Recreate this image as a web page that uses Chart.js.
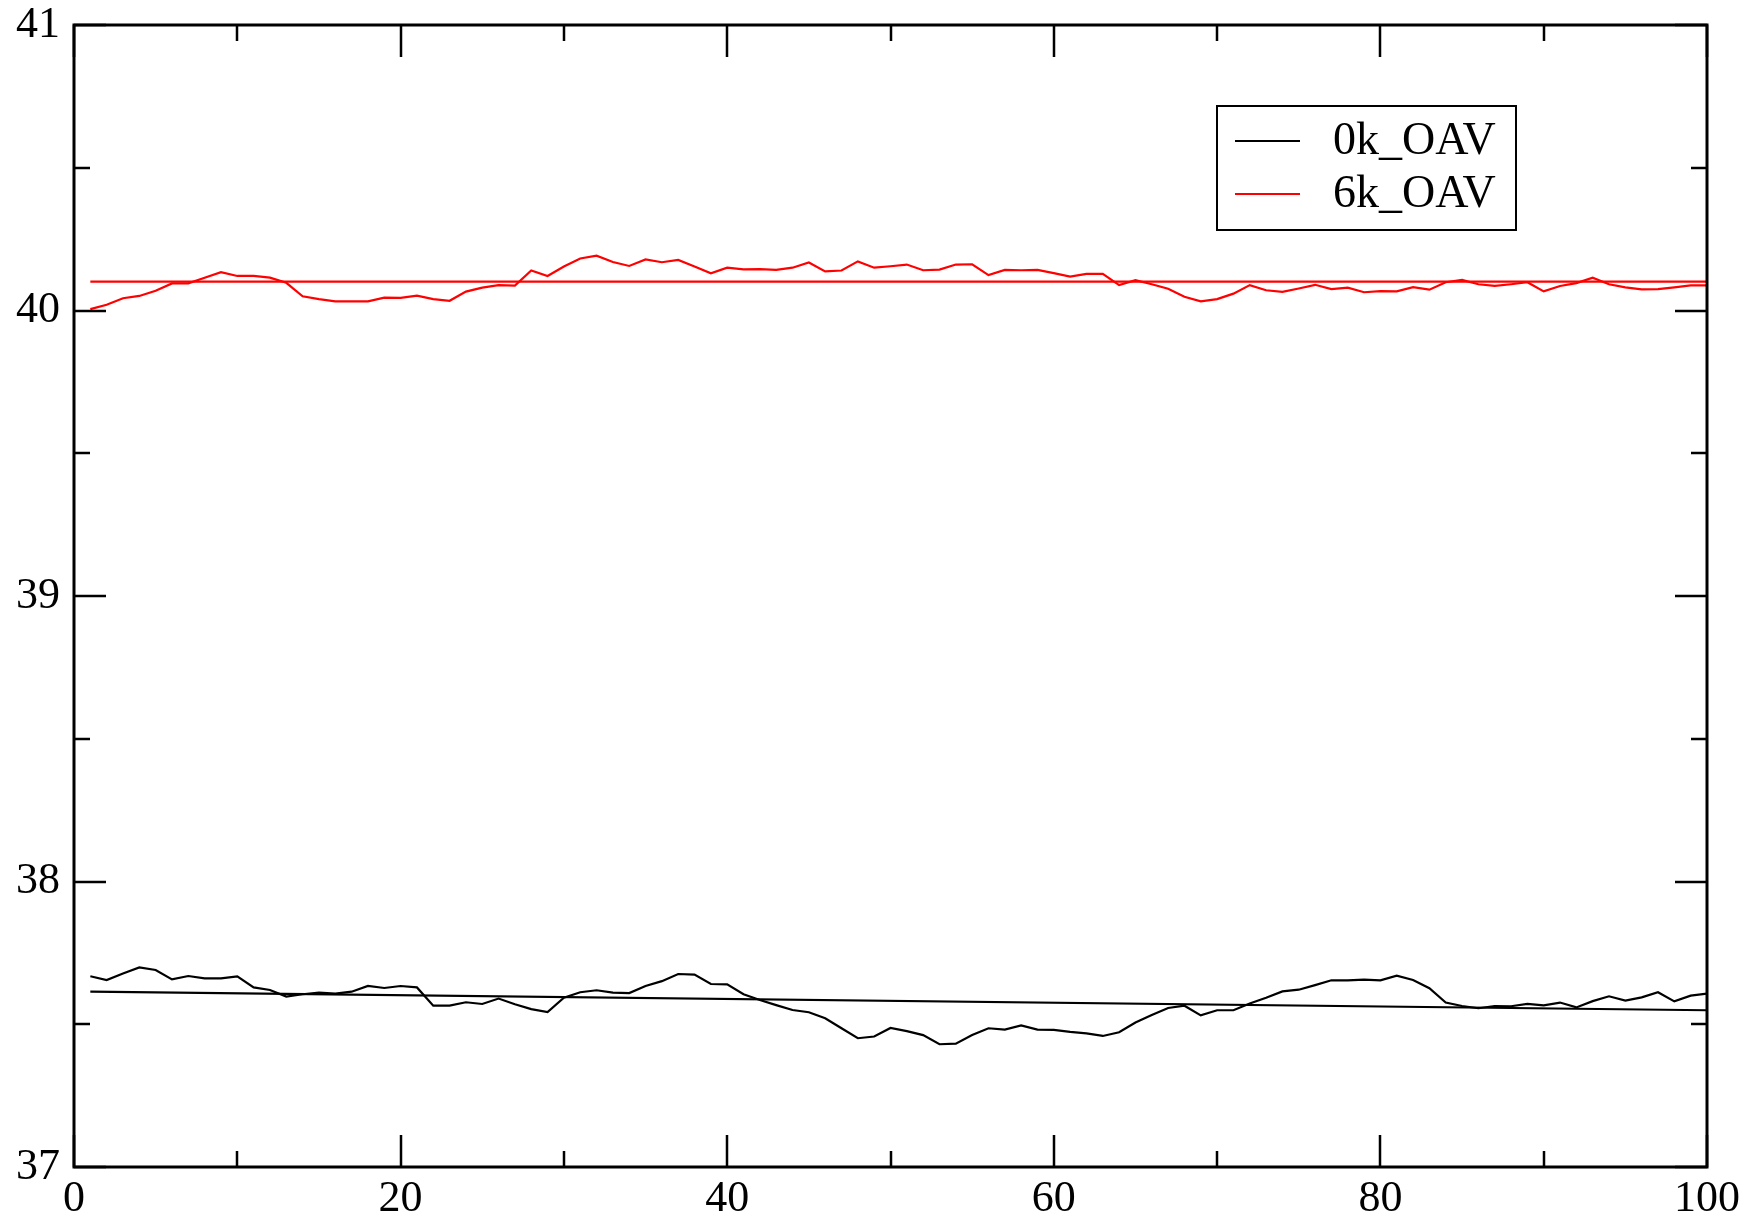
<!DOCTYPE html>
<html><head><meta charset="utf-8">
<script src="https://cdn.jsdelivr.net/npm/chart.js@4.4.1/dist/chart.umd.min.js"></script>
<style>html,body{margin:0;padding:0;background:#fff;}#wrap{width:1760px;height:1223px;}</style>
</head><body><div id="wrap"><canvas id="c" width="1760" height="1223"></canvas></div>
<script>
const steps = [1,2,3,4,5,6,7,8,9,10,11,12,13,14,15,16,17,18,19,20,21,22,23,24,25,26,27,28,29,30,31,32,33,34,35,36,37,38,39,40,41,42,43,44,45,46,47,48,49,50,51,52,53,54,55,56,57,58,59,60,61,62,63,64,65,66,67,68,69,70,71,72,73,74,75,76,77,78,79,80,81,82,83,84,85,86,87,88,89,90,91,92,93,94,95,96,97,98,99,100];
const oav0k = [37.668,37.655,37.678,37.699,37.690,37.657,37.669,37.661,37.661,37.668,
37.629,37.620,37.597,37.605,37.611,37.607,37.614,37.634,37.627,37.634,
37.629,37.565,37.565,37.577,37.571,37.590,37.570,37.553,37.543,37.593,
37.612,37.619,37.611,37.609,37.634,37.651,37.676,37.674,37.641,37.640,
37.605,37.585,37.567,37.550,37.542,37.521,37.486,37.451,37.457,37.487,
37.476,37.462,37.430,37.432,37.462,37.486,37.481,37.496,37.481,37.480,
37.473,37.468,37.459,37.472,37.506,37.532,37.557,37.565,37.531,37.549,
37.549,37.573,37.593,37.615,37.621,37.637,37.654,37.654,37.656,37.654,
37.670,37.655,37.626,37.576,37.564,37.556,37.564,37.563,37.571,37.566,
37.576,37.559,37.581,37.598,37.583,37.594,37.612,37.580,37.600,37.607];
const oav6k = [40.005,40.020,40.043,40.051,40.069,40.095,40.095,40.115,40.134,40.121,
40.121,40.115,40.097,40.050,40.040,40.032,40.032,40.032,40.045,40.044,
40.052,40.040,40.034,40.066,40.080,40.089,40.087,40.140,40.121,40.154,
40.182,40.192,40.170,40.156,40.179,40.169,40.177,40.154,40.130,40.150,
40.144,40.145,40.142,40.150,40.168,40.137,40.140,40.172,40.150,40.155,
40.161,40.141,40.143,40.161,40.162,40.124,40.142,40.141,40.142,40.131,
40.119,40.128,40.128,40.089,40.106,40.092,40.076,40.048,40.032,40.040,
40.059,40.089,40.071,40.065,40.077,40.090,40.075,40.080,40.064,40.068,
40.067,40.082,40.073,40.099,40.107,40.092,40.086,40.092,40.099,40.067,
40.086,40.096,40.115,40.092,40.081,40.074,40.075,40.081,40.088,40.088];
const fitX = [1, 100];
const fit0k = [37.614, 37.549];
const fit6k = [40.101, 40.101];
const seriesNames = ['0k_OAV', '6k_OAV'];
const xTicks = [0,20,40,60,80,100];
const xMinor = [10,30,50,70,90];
const yTicks = [37,38,39,40,41];
const yMinor = [37.5,38.5,39.5,40.5];

const FAMILY = '"Liberation Serif", "Times New Roman", serif';
const FONT = {family: FAMILY, size: 44};
const LEGEND_SIZE = 46;
const pts = (xs, ys) => xs.map((x, i) => ({x: x, y: ys[i]}));

const framePlugin = {
  id: 'frame',
  afterDraw(chart) {
    const ctx = chart.ctx, a = chart.chartArea;
    const xs = chart.scales.x, ys = chart.scales.y;
    ctx.save();
    ctx.strokeStyle = '#000';
    ctx.lineCap = 'butt';
    ctx.lineWidth = 2.5;
    const MAJ = 32, MIN = 16;
    ctx.beginPath();
    const xt = (v, len) => { const p = Math.round(xs.getPixelForValue(v));
      ctx.moveTo(p, a.bottom); ctx.lineTo(p, a.bottom - len);
      ctx.moveTo(p, a.top); ctx.lineTo(p, a.top + len); };
    const yt = (v, len) => { const p = Math.round(ys.getPixelForValue(v));
      ctx.moveTo(a.left, p); ctx.lineTo(a.left + len, p);
      ctx.moveTo(a.right, p); ctx.lineTo(a.right - len, p); };
    xTicks.forEach(v => xt(v, MAJ)); xMinor.forEach(v => xt(v, MIN));
    yTicks.forEach(v => yt(v, MAJ)); yMinor.forEach(v => yt(v, MIN));
    ctx.stroke();
    ctx.lineWidth = 3;
    ctx.strokeRect(a.left, a.top, a.right - a.left, a.bottom - a.top);

    // legend
    const bx = a.left + 1143, by = a.top + 81, bw = 299, bh = 124;
    ctx.lineWidth = 2;
    ctx.strokeRect(bx, by, bw, bh);
    ctx.font = LEGEND_SIZE + 'px ' + FAMILY;
    ctx.textBaseline = 'middle';
    ctx.textAlign = 'left';
    const legendSets = chart.data.datasets.filter(d => seriesNames.includes(d.label));
    legendSets.forEach((d, i) => {
      const ly = by + 35 + i * 53;
      ctx.strokeStyle = d.borderColor;
      ctx.lineWidth = 2;
      ctx.beginPath(); ctx.moveTo(bx + 18, ly); ctx.lineTo(bx + 83, ly); ctx.stroke();
      ctx.fillStyle = '#000';
      ctx.fillText(d.label, bx + 116, ly + 1);
    });
    ctx.restore();
  }
};

new Chart(document.getElementById('c'), {
  type: 'scatter',
  data: {
    datasets: [
      {label: '0k_OAV', data: pts(steps, oav0k), showLine: true, borderColor: '#000', borderWidth: 2.2, pointRadius: 0, tension: 0, fill: false},
      {label: '6k_OAV', data: pts(steps, oav6k), showLine: true, borderColor: '#ff0000', borderWidth: 2.2, pointRadius: 0, tension: 0, fill: false},
      {label: '0k fit', data: pts(fitX, fit0k), showLine: true, borderColor: '#000', borderWidth: 2.2, pointRadius: 0, tension: 0, fill: false},
      {label: '6k fit', data: pts(fitX, fit6k), showLine: true, borderColor: '#ff0000', borderWidth: 2.2, pointRadius: 0, tension: 0, fill: false}
    ]
  },
  options: {
    responsive: false,
    animation: false,
    devicePixelRatio: 1,
    layout: {padding: {top: 25, right: 53, left: 0, bottom: 0}},
    plugins: {legend: {display: false}, tooltip: {enabled: false}},
    scales: {
      x: {
        type: 'linear', min: 0, max: 100,
        afterBuildTicks: s => { s.ticks = xTicks.map(v => ({value: v})); },
        afterFit: s => { s.height = 56; s.paddingLeft = 0; s.paddingRight = 0; },
        grid: {display: false, drawTicks: false},
        border: {display: false},
        ticks: {font: FONT, color: '#000', padding: 6, maxRotation: 0, autoSkip: false}
      },
      y: {
        type: 'linear', min: 37, max: 41,
        afterBuildTicks: s => { s.ticks = yTicks.map(v => ({value: v})); },
        afterFit: s => { s.width = 74; s.paddingTop = 0; s.paddingBottom = 0; },
        grid: {display: false, drawTicks: false},
        border: {display: false},
        ticks: {font: FONT, color: '#000', padding: 14, autoSkip: false}
      }
    }
  },
  plugins: [framePlugin]
});
</script>
</body></html>
